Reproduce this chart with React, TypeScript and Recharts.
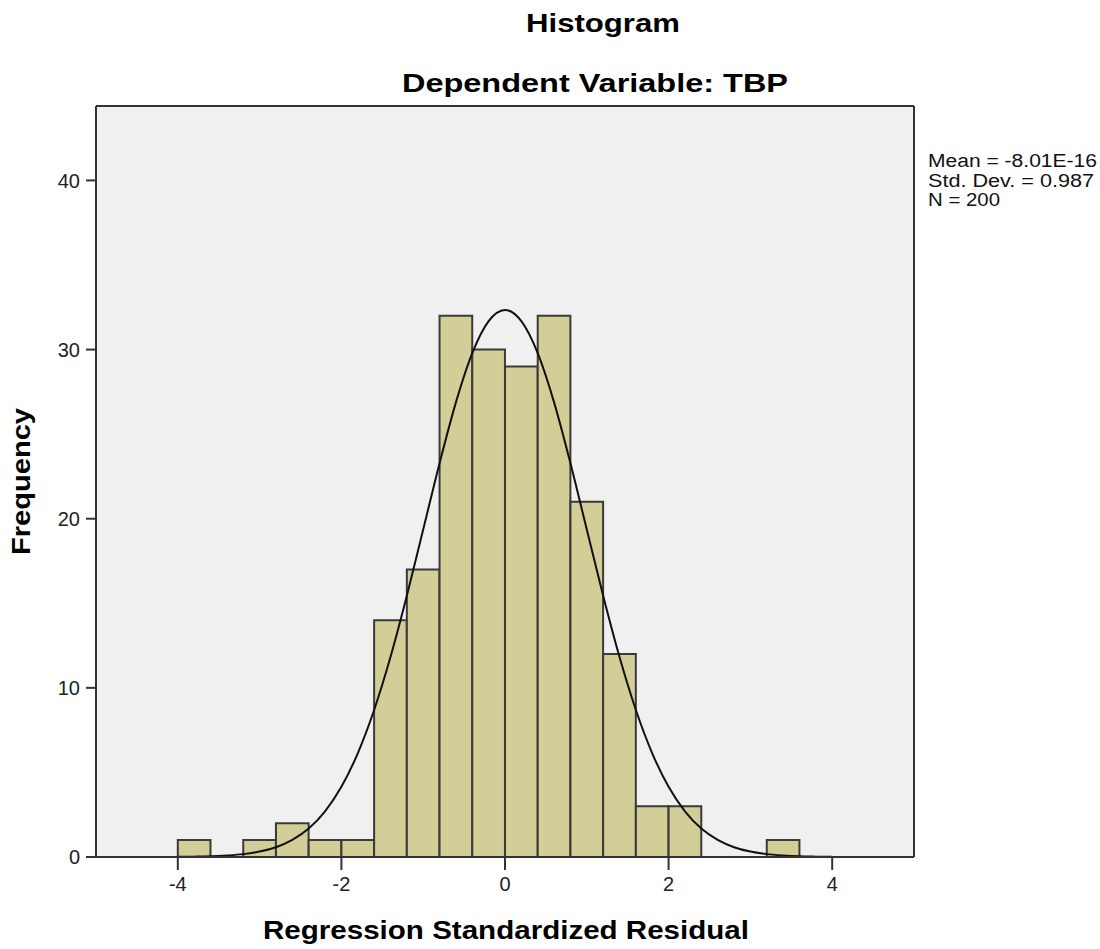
import { ComposedChart, Bar, Line, XAxis, YAxis, CartesianGrid } from 'recharts';

// histogram bins (width 0.4), x = bin centre
const binCenters = [-3.8, -3.4, -3.0, -2.6, -2.2, -1.8, -1.4, -1.0, -0.6, -0.2, 0.2, 0.6, 1.0, 1.4, 1.8, 2.2, 2.6, 3.0, 3.4];
const binCounts = [1, 0, 1, 2, 1, 1, 14, 17, 32, 30, 29, 32, 21, 12, 3, 3, 0, 0, 1];

// normal curve
const curveX = [-4.0, -3.8, -3.6, -3.4, -3.2, -3.0, -2.8, -2.6, -2.4, -2.2, -2.0, -1.8, -1.6, -1.4, -1.2, -1.0, -0.8, -0.6, -0.4, -0.2, 0,
    0.2, 0.4, 0.6, 0.8, 1.0, 1.2, 1.4, 1.6, 1.8, 2.0, 2.2, 2.4, 2.6, 2.8, 3.0, 3.2, 3.4, 3.6, 3.8, 4.0];
const curveY = [0.01, 0.02, 0.04, 0.09, 0.17, 0.32, 0.58, 1.01, 1.68, 2.7, 4.15, 6.13, 8.69, 11.82, 15.44, 19.36, 23.28, 26.88, 29.79, 31.68, 32.34,
    31.68, 29.79, 26.88, 23.28, 19.36, 15.44, 11.82, 8.69, 6.13, 4.15, 2.7, 1.68, 1.01, 0.58, 0.32, 0.17, 0.09, 0.04, 0.02, 0.01];

const xTicks = [-4, -2, 0, 2, 4];
const yTicks = [0, 10, 20, 30, 40];
const statLines = ['Mean = -8.01E-16', 'Std. Dev. = 0.987', 'N = 200'];

const FONT = 'Arial, "Liberation Sans", sans-serif';
const X_DOMAIN = [-5, 5];
const BIN_WIDTH = 0.4;
const PLOT_W = 818;

function App() {
    const bins = binCenters.map((x, i) => ({ x, count: binCounts[i] }));
    const curve = curveX.map((x, i) => ({ x, y: curveY[i] }));
    // a hair under the band so recharts doesn't shrink it by 10%
    const barPx = (BIN_WIDTH / (X_DOMAIN[1] - X_DOMAIN[0])) * PLOT_W - 0.05;
    const tick = { fontSize: 20, fill: '#222', fontFamily: FONT };

    return (
        <div style={{ position: 'absolute', left: 0, top: 0, width: 1100, height: 949, background: '#fff' }}>
            <ComposedChart
                width={1100}
                height={949}
                data={bins}
                margin={{ top: 96, right: 176, bottom: 62, left: 36 }}
                barCategoryGap="0%"
                barGap={0}
            >
                <CartesianGrid fill="#F0F0F0" horizontal={false} vertical={false} />
                <XAxis
                    xAxisId="main"
                    dataKey="x"
                    type="number"
                    domain={X_DOMAIN}
                    ticks={xTicks}
                    allowDataOverflow
                    height={30}
                    tickSize={13}
                    tickMargin={7}
                    tick={tick}
                    axisLine={{ stroke: '#333', strokeWidth: 2 }}
                    tickLine={{ stroke: '#333', strokeWidth: 2 }}
                />
                {/* top edge of the frame, also carries the curve */}
                <XAxis
                    xAxisId="top"
                    orientation="top"
                    dataKey="x"
                    type="number"
                    domain={X_DOMAIN}
                    allowDataOverflow
                    height={10}
                    tick={false}
                    tickLine={false}
                    axisLine={{ stroke: '#333', strokeWidth: 2 }}
                />
                <YAxis
                    yAxisId="main"
                    type="number"
                    domain={[0, 44.4]}
                    ticks={yTicks}
                    allowDataOverflow
                    width={60}
                    tickSize={10}
                    tickMargin={6}
                    tick={tick}
                    axisLine={{ stroke: '#333', strokeWidth: 2 }}
                    tickLine={{ stroke: '#333', strokeWidth: 2 }}
                />
                <YAxis
                    yAxisId="right"
                    orientation="right"
                    type="number"
                    domain={[0, 44.4]}
                    allowDataOverflow
                    width={10}
                    tick={false}
                    tickLine={false}
                    axisLine={{ stroke: '#333', strokeWidth: 2 }}
                />
                <Bar
                    xAxisId="main"
                    yAxisId="main"
                    dataKey="count"
                    barSize={barPx}
                    fill="#D3CE97"
                    stroke="#3a3a3a"
                    strokeWidth={2}
                    isAnimationActive={false}
                />
                <Line
                    xAxisId="top"
                    yAxisId="main"
                    data={curve}
                    dataKey="y"
                    type="monotone"
                    stroke="#111"
                    strokeWidth={2}
                    dot={false}
                    activeDot={false}
                    isAnimationActive={false}
                />
            </ComposedChart>

            <svg width={1100} height={949} style={{ position: 'absolute', left: 0, top: 0, pointerEvents: 'none' }}>
                <g fontFamily={FONT} fontWeight="bold" fontSize={25} fill="#000">
                    <text x={526} y={32} textLength={154} lengthAdjust="spacingAndGlyphs">Histogram</text>
                    <text x={402} y={92} textLength={386} lengthAdjust="spacingAndGlyphs">Dependent Variable: TBP</text>
                    <text x={263} y={939} textLength={486} lengthAdjust="spacingAndGlyphs">Regression Standardized Residual</text>
                    <text transform="translate(30,481.5) rotate(-90)" textAnchor="middle" textLength={147} lengthAdjust="spacingAndGlyphs">
                        Frequency
                    </text>
                </g>
                <g fontFamily={FONT} fontSize={18} fill="#111">
                    <text x={928} y={167} textLength={169} lengthAdjust="spacingAndGlyphs">{statLines[0]}</text>
                    <text x={928} y={186.5} textLength={166} lengthAdjust="spacingAndGlyphs">{statLines[1]}</text>
                    <text x={928} y={206} textLength={72} lengthAdjust="spacingAndGlyphs">{statLines[2]}</text>
                </g>
            </svg>
        </div>
    );
}

export default App;
